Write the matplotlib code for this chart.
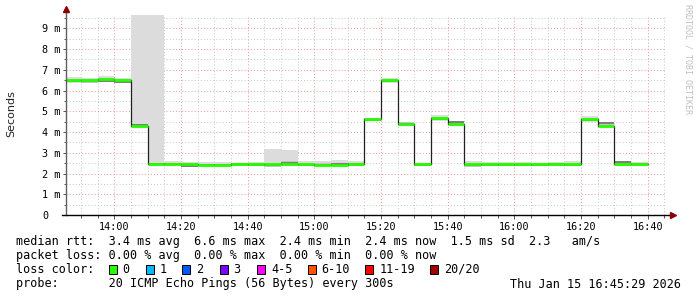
import matplotlib
matplotlib.use("Agg")
import matplotlib.pyplot as plt
from matplotlib.ticker import MultipleLocator, FixedLocator, FixedFormatter
from matplotlib.patches import Rectangle

# ---------------- data ----------------
start_time = "13:45:29"
end_time = "16:45:29"
interval_ends = ["13:50", "13:55", "14:00", "14:05", "14:10", "14:15", "14:20",
                 "14:25", "14:30", "14:35", "14:40", "14:45", "14:50", "14:55",
                 "15:00", "15:05", "15:10", "15:15", "15:20", "15:25", "15:30",
                 "15:35", "15:40", "15:45", "15:50", "15:55", "16:00", "16:05",
                 "16:10", "16:15", "16:20", "16:25", "16:30", "16:35", "16:40"]
# median rtt (ms)
median_ms = [6.49, 6.49, 6.55, 6.51, 4.29, 2.46, 2.46, 2.47, 2.42, 2.42, 2.45,
             2.45, 2.44, 2.45, 2.44, 2.41, 2.43, 2.44, 4.61, 6.49, 4.37, 2.44,
             4.66, 4.38, 2.44, 2.44, 2.44, 2.44, 2.44, 2.44, 2.44, 4.61, 4.30,
             2.44, 2.44]
# smoke lower / upper bound (ms)
smoke_lo = [6.36, 6.36, 6.42, 6.38, 4.20, 2.36, 2.38, 2.33, 2.35, 2.36, 2.38,
            2.36, 2.36, 2.37, 2.36, 2.36, 2.37, 2.38, 4.52, 6.37, 4.28, 2.38,
            4.53, 4.30, 2.35, 2.37, 2.37, 2.37, 2.38, 2.36, 2.34, 4.50, 4.22,
            2.38, 2.36]
smoke_hi = [6.64, 6.60, 6.68, 6.62, 10.0, 10.0, 2.62, 2.55, 2.55, 2.55, 2.52,
            2.55, 3.18, 3.13, 2.58, 2.62, 2.64, 2.60, 4.68, 6.62, 4.45, 2.52,
            4.80, 4.52, 2.58, 2.56, 2.56, 2.54, 2.53, 2.56, 2.58, 4.75, 4.47,
            2.60, 2.55]
# inner (dense) smoke line (ms)
smoke_inner = [6.47, 6.44, 6.47, 6.43, 4.33, 2.45, 2.46, 2.38, 2.40, 2.42, 2.44,
               2.42, 2.39, 2.52, 2.40, 2.43, 2.45, 2.44, 4.60, 6.47, 4.41, 2.43,
               4.62, 4.47, 2.39, 2.43, 2.43, 2.43, 2.43, 2.45, 2.42, 4.58, 4.43,
               2.56, 2.44]

x_tick_labels = ["14:00", "14:20", "14:40", "15:00", "15:20", "15:40", "16:00",
                 "16:20", "16:40"]
y_tick_values = [0, 1, 2, 3, 4, 5, 6, 7, 8, 9]
y_tick_labels = ["0", "1 m", "2 m", "3 m", "4 m", "5 m", "6 m", "7 m", "8 m", "9 m"]

loss_labels = ["0", "1", "2", "3", "4-5", "6-10", "11-19", "20/20"]
loss_colors = ["#26ff00", "#00b8ff", "#0059ff", "#7e00ff", "#ff00ff",
               "#ff5500", "#ff0000", "#a10000"]

legend_rtt = "median rtt:  3.4 ms avg  6.6 ms max  2.4 ms min  2.4 ms now  1.5 ms sd  2.3   am/s"
legend_loss = "packet loss: 0.00 % avg  0.00 % max  0.00 % min  0.00 % now"
legend_probe = "probe:       20 ICMP Echo Pings (56 Bytes) every 300s"
stamp = "Thu Jan 15 16:45:29 2026"


def to_min(s):
    parts = [int(p) for p in s.split(":")]
    m = parts[0] * 60 + parts[1]
    if len(parts) > 2:
        m += parts[2] / 60.0
    return m


x_min = to_min(start_time)
x_max = to_min(end_time)
ends = [to_min(s) for s in interval_ends]
starts = [max(e - 5, x_min) for e in ends]
edges = [starts[0]] + ends

# ---------------- figure ----------------
W, H = 697, 297
fig = plt.figure(figsize=(W / 100, H / 100), dpi=100)
fig.patch.set_facecolor("white")
ax = fig.add_axes([66 / W, (H - 215) / H, 600 / W, 200 / H])
ax.set_facecolor("white")
ax.set_xlim(x_min, x_max)
ax.set_ylim(0, 9.64)

mono = "DejaVu Sans Mono"

# grid
ax.xaxis.set_major_locator(FixedLocator([to_min(s) for s in x_tick_labels]))
ax.xaxis.set_major_formatter(FixedFormatter(x_tick_labels))
ax.xaxis.set_minor_locator(MultipleLocator(5))
ax.yaxis.set_major_locator(FixedLocator(y_tick_values))
ax.yaxis.set_major_formatter(FixedFormatter(y_tick_labels))
ax.yaxis.set_minor_locator(MultipleLocator(0.5))
ax.set_axisbelow(True)
ax.grid(which="major", color="#e8a0a0", linestyle=(0, (1, 2)), linewidth=0.75)
ax.grid(which="minor", color="#cccccc", linestyle=(0, (1, 2)), linewidth=0.75)

for s in ax.spines.values():
    s.set_visible(False)

ax.tick_params(axis="both", which="both", direction="out", color="#555555",
               width=0.7)
ax.tick_params(axis="x", which="major", length=3, pad=2, labelsize=7.3)
ax.tick_params(axis="x", which="minor", length=2)
ax.tick_params(axis="y", which="major", length=2, pad=15.0, labelsize=7.3)
ax.tick_params(axis="y", which="minor", length=1.5)
for lab in ax.get_xticklabels() + ax.get_yticklabels():
    lab.set_fontfamily(mono)
for lab in ax.get_yticklabels():
    lab.set_horizontalalignment("left")

# smoke
lo_ext = smoke_lo + [smoke_lo[-1]]
hi_ext = smoke_hi + [smoke_hi[-1]]
ax.fill_between(edges, lo_ext, hi_ext, step="post", color="#dcdcdc",
                linewidth=0, zorder=2)
mid_lo = [min(m, i) - 0.06 for m, i in zip(median_ms, smoke_inner)]
mid_hi = [max(m, i) + 0.06 for m, i in zip(median_ms, smoke_inner)]
ax.fill_between(edges, mid_lo + [mid_lo[-1]], mid_hi + [mid_hi[-1]],
                step="post", color="#c4c4c4", linewidth=0, zorder=2.5)
ax.hlines(smoke_inner, starts, ends, color="#6a6a6a", linewidth=1.1, zorder=3)

# median line
ax.step(edges, median_ms + [median_ms[-1]], where="post", color="#202020",
        linewidth=0.9, zorder=4)
ax.hlines(median_ms, starts, ends, color=loss_colors[0], linewidth=2.0, zorder=5)

# axes lines with arrows
ax.plot([0, 0], [0, 1.03], transform=ax.transAxes, color="#606060",
        linewidth=1.0, clip_on=False, zorder=6)
ax.plot([-0.006, 1.012], [0, 0], transform=ax.transAxes, color="black",
        linewidth=1.0, clip_on=False, zorder=6)
ax.plot([0], [1.03], transform=ax.transAxes, marker="^", color="#8b0000",
        markersize=4, clip_on=False, zorder=7)
ax.plot([1.012], [0], transform=ax.transAxes, marker=">", color="#8b0000",
        markersize=4, clip_on=False, zorder=7)

# y label
fig.text(11 / W, 1 - 114 / H, "Seconds", rotation=90, ha="center",
         va="center", fontsize=8, family="DejaVu Sans", color="#222222")

# side watermark
fig.text(688 / W, 1 - 4 / H, "RRDTOOL / TOBI OETIKER", rotation=270,
         ha="center", va="top", fontsize=6, family=mono, color="#c0c0c0")

# legend
fs = 8.5
fig.text(16 / W, 1 - 241 / H, legend_rtt, ha="left", va="center",
         fontsize=fs, family=mono)
fig.text(16 / W, 1 - 256 / H, legend_loss, ha="left", va="center",
         fontsize=fs, family=mono)
fig.text(16 / W, 1 - 269.5 / H, "loss color:", ha="left", va="center",
         fontsize=fs, family=mono)
box_x = [108.5, 145.8, 182.2, 219.6, 257.0, 307.6, 365.3, 430.2]
for bx, lab, col in zip(box_x, loss_labels, loss_colors):
    fig.patches.append(Rectangle((bx / W, 1 - 274 / H), 8 / W, 9 / H,
                                 transform=fig.transFigure, facecolor=col,
                                 edgecolor="black", linewidth=0.7))
    fig.text((bx + 14) / W, 1 - 269.5 / H, lab, ha="left", va="center",
             fontsize=fs, family=mono)
fig.text(16 / W, 1 - 284 / H, legend_probe, ha="left", va="center",
         fontsize=fs, family=mono)
fig.text(681 / W, 1 - 284 / H, stamp, ha="right", va="center",
         fontsize=fs, family=mono)

fig.savefig("out.png", dpi=100, facecolor="white")
